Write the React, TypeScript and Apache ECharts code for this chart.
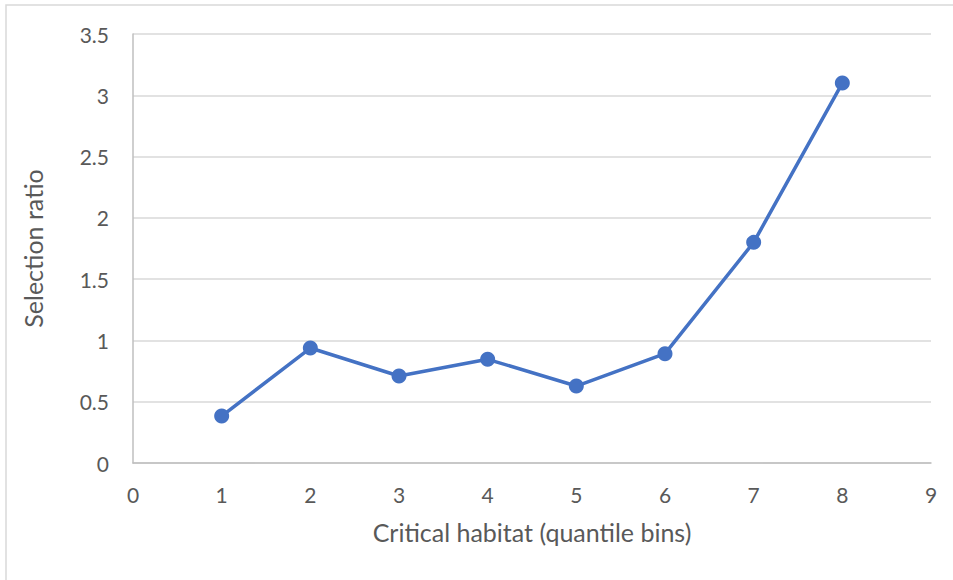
import React, { useEffect, useRef } from "react";
import * as echarts from "echarts";

// Quantile bin index and its selection ratio
const bins = [1, 2, 3, 4, 5, 6, 7, 8];
const selectionRatio = [0.383, 0.938, 0.71, 0.846, 0.628, 0.892, 1.8, 3.1];

const xTitle = "Critical habitat (quantile bins)";
const yTitle = "Selection ratio";

const FONT = "Lato, 'Open Sans', sans-serif";
const LABEL = "#595959";

export default function App() {
  const ref = useRef<HTMLDivElement>(null);

  useEffect(() => {
    if (!ref.current) return;
    const chart = echarts.init(ref.current, null, { renderer: "svg" });
    chart.setOption({
      animation: false,
      backgroundColor: "#ffffff",
      textStyle: { fontFamily: FONT },
      graphic: [
        {
          type: "rect",
          shape: { x: 6, y: 5, width: 960, height: 590 },
          style: { fill: "none", stroke: "#d9d9d9", lineWidth: 1.5 },
          silent: true,
        },
      ],
      grid: { left: 133, right: 22, top: 34, bottom: 117 },
      xAxis: {
        type: "value",
        min: 0,
        max: 9,
        interval: 1,
        name: xTitle,
        nameLocation: "middle",
        nameGap: 56,
        nameTextStyle: { color: LABEL, fontSize: 25, fontFamily: FONT },
        axisLine: { show: true, lineStyle: { color: "#bfbfbf", width: 1.5 } },
        axisTick: { show: false },
        splitLine: { show: false },
        axisLabel: { color: LABEL, fontSize: 21, margin: 21, fontFamily: FONT },
      },
      yAxis: {
        type: "value",
        min: 0,
        max: 3.5,
        interval: 0.5,
        name: yTitle,
        nameLocation: "middle",
        nameRotate: 90,
        nameGap: 88,
        nameTextStyle: { color: LABEL, fontSize: 25, fontFamily: FONT },
        axisLine: { show: true, lineStyle: { color: "#bfbfbf", width: 1.5 } },
        axisTick: { show: false },
        splitLine: { show: true, lineStyle: { color: "#d9d9d9", width: 1.5 } },
        axisLabel: { color: LABEL, fontSize: 21, margin: 24, fontFamily: FONT },
      },
      series: [
        {
          type: "line",
          data: bins.map((b, i) => [b, selectionRatio[i]]),
          symbol: "circle",
          symbolSize: 15,
          itemStyle: { color: "#4472c4" },
          lineStyle: { color: "#4472c4", width: 3.5 },
        },
      ],
    });
    return () => chart.dispose();
  }, []);

  return (
    <div
      ref={ref}
      style={{ position: "fixed", left: 0, top: 0, width: 953, height: 580 }}
    />
  );
}
